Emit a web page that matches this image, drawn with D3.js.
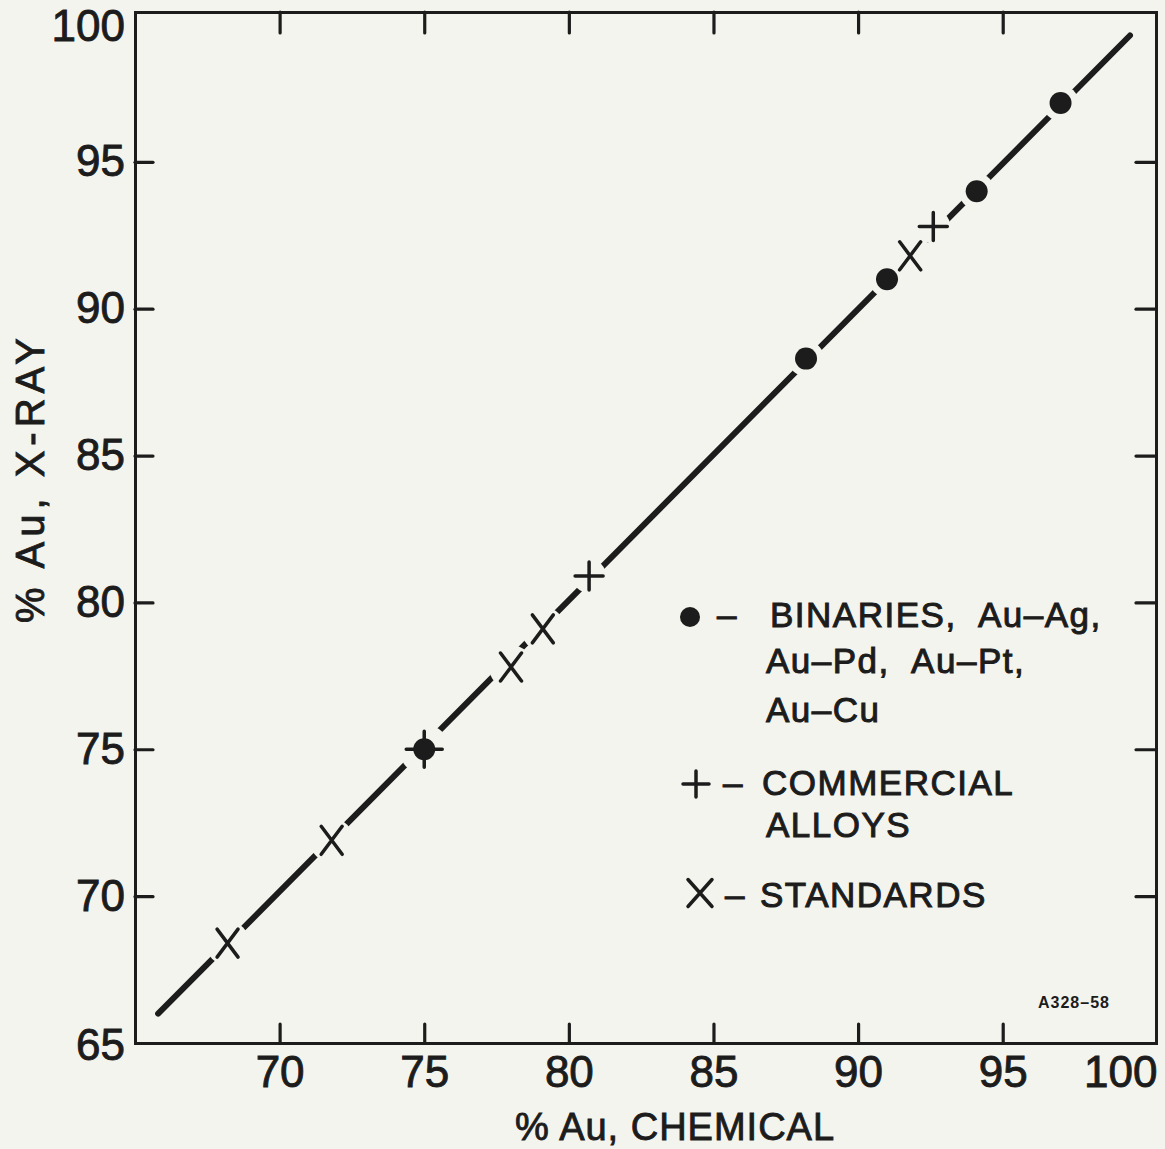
<!DOCTYPE html>
<html>
<head>
<meta charset="utf-8">
<script src="https://cdn.jsdelivr.net/npm/d3@7"></script>
<style>
  html, body { margin: 0; padding: 0; background: #f4f4ee; }
  svg { display: block; }
  text { font-family: "Liberation Sans", Arial, sans-serif; fill: #1c1c1c; }
</style>
</head>
<body>
<svg id="chart" width="1165" height="1149"></svg>
<script>
// ---- data ----
const xTicks = [70, 75, 80, 85, 90, 95, 100];
const yTicks = [65, 70, 75, 80, 85, 90, 95, 100];
const binaries = [[75.0, 75.0], [88.2, 88.3], [91.0, 91.0], [94.1, 94.0], [97.0, 97.0]];
const commercial = [[75.0, 75.0], [80.7, 80.9], [92.6, 92.8]];
const standards = [[68.2, 68.4], [71.8, 71.9], [78.0, 77.8], [79.1, 79.1], [91.8, 91.8]];
const fitLine = [[65.8, 66.0], [99.4, 99.3]];
const xTitle = "% Au, CHEMICAL";
const yTitle = "% Au, X-RAY";
const legendLines = [
  ["BINARIES, Au–Ag,", "Au–Pd, Au–Pt,", "Au–Cu"],
  ["COMMERCIAL", "ALLOYS"],
  ["STANDARDS"]
];
const figCode = "A328–58";

// ---- layout ----
const ink = "#1c1c1c", bg = "#f4f4ee";
const L = 135, R = 1156, T = 12, B = 1043;
const x = d3.scaleLinear().domain([65, 100.3]).range([L, R]);
const y = d3.scaleLinear().domain([65, 100.1]).range([B, T]);

const svg = d3.select("#chart");
svg.append("rect").attr("width", 1165).attr("height", 1149).attr("fill", bg);

function styleAxis(g) {
  g.selectAll("path.domain").attr("stroke", ink).attr("stroke-width", 3).attr("stroke-linecap", "square");
  g.selectAll(".tick line").attr("stroke", ink).attr("stroke-width", 3.2).attr("stroke-linecap", "round");
  g.selectAll(".tick text").attr("fill", ink).attr("stroke", ink).attr("stroke-width", 0.9)
    .style("font-family", '"Liberation Sans", Arial, sans-serif').style("font-size", "44px");
}

// bottom axis
const gB = svg.append("g").attr("transform", `translate(0,${B})`)
  .call(d3.axisBottom(x).tickValues(xTicks).tickSizeInner(-19).tickSizeOuter(0).tickPadding(0).tickFormat(d3.format("d")));
styleAxis(gB);
gB.selectAll(".tick text").attr("dy", "0").attr("y", 44);
gB.selectAll(".tick").filter(d => d === 100).select("line").remove();
gB.selectAll(".tick").filter(d => d === 100).select("text").attr("text-anchor", "end").attr("x", R - x(100) + 1);

// top axis
const gT = svg.append("g").attr("transform", `translate(0,${T})`)
  .call(d3.axisTop(x).tickValues(xTicks.filter(d => d < 100)).tickSizeInner(-21).tickSizeOuter(0).tickFormat(""));
styleAxis(gT);

// left axis
const gL = svg.append("g").attr("transform", `translate(${L},0)`)
  .call(d3.axisLeft(y).tickValues(yTicks).tickSizeInner(-18).tickSizeOuter(0).tickPadding(10).tickFormat(d3.format("d")));
styleAxis(gL);
gL.selectAll(".tick").filter(d => d === 65 || d === 100).select("line").remove();
gL.selectAll(".tick").filter(d => d === 100).select("text").attr("y", 11);
gL.selectAll(".tick").filter(d => d === 65).select("text").attr("y", 2);

// right axis
const gR = svg.append("g").attr("transform", `translate(${R},0)`)
  .call(d3.axisRight(y).tickValues(yTicks.filter(d => d > 65 && d < 100)).tickSizeInner(-20).tickSizeOuter(0).tickFormat(""));
styleAxis(gR);

// fit line
svg.append("path")
  .attr("d", d3.line().x(d => x(d[0])).y(d => y(d[1]))(fitLine))
  .attr("stroke", ink).attr("stroke-width", 6).attr("stroke-linecap", "round").attr("fill", "none");

// halos (gaps in the line around markers)
const halos = svg.append("g");
function halo(data, rf) {
  halos.selectAll(null).data(data).enter().append("circle")
    .attr("cx", d => x(d[0])).attr("cy", d => y(d[1])).attr("r", rf).attr("fill", bg);
}
halo(binaries, 18);
halo(commercial, (d, i) => i === 0 ? 25 : 17);
halo(standards, 22);

const plusPath = s => `M${-s},0H${s}M0,${-s}V${s}`;
const xPath = (w, h) => `M${-w},${-h}L${w},${h}M${w},${-h}L${-w},${h}`;

// markers
const marks = svg.append("g");
marks.selectAll("circle.bin").data(binaries).enter().append("circle")
  .attr("class", "bin").attr("cx", d => x(d[0])).attr("cy", d => y(d[1])).attr("r", 11).attr("fill", ink);
marks.selectAll("path.com").data(commercial).enter().append("path")
  .attr("class", "com").attr("transform", d => `translate(${x(d[0])},${y(d[1])})`)
  .attr("d", (d, i) => plusPath(i === 0 ? 18 : 14))
  .attr("stroke", ink).attr("stroke-width", 3.5).attr("stroke-linecap", "round").attr("fill", "none");
marks.selectAll("path.std").data(standards).enter().append("path")
  .attr("class", "std").attr("transform", d => `translate(${x(d[0])},${y(d[1])})`)
  .attr("d", xPath(10.5, 14))
  .attr("stroke", ink).attr("stroke-width", 3.5).attr("stroke-linecap", "round").attr("fill", "none");

// legend
const lg = svg.append("g").style("font-size", "35px");
lg.append("circle").attr("cx", 690).attr("cy", 617).attr("r", 10).attr("fill", ink);
lg.append("path").attr("transform", "translate(696,784)").attr("d", plusPath(13))
  .attr("stroke", ink).attr("stroke-width", 3.5).attr("stroke-linecap", "round").attr("fill", "none");
lg.append("path").attr("transform", "translate(700,893)").attr("d", xPath(12, 13.5))
  .attr("stroke", ink).attr("stroke-width", 3.5).attr("stroke-linecap", "round").attr("fill", "none");
const dashes = [[717, 627], [723, 795], [725, 907]];
dashes.forEach(p => lg.append("text").attr("x", p[0]).attr("y", p[1])
  .attr("stroke", ink).attr("stroke-width", 1).text("–"));
const lineSpec = [
  [[770, 627], [766, 673], [766, 722]],
  [[762, 795], [766, 837]],
  [[760, 907]]
];
legendLines.forEach((grp, gi) => grp.forEach((t, li) => {
  lg.append("text").attr("x", lineSpec[gi][li][0]).attr("y", lineSpec[gi][li][1])
    .attr("stroke", ink).attr("stroke-width", 1)
    .style("letter-spacing", "1.5px").style("word-spacing", "12px").text(t);
}));

// figure code
svg.append("text").attr("x", 1038).attr("y", 1008).style("font-size", "16px").style("font-weight", "bold")
  .style("letter-spacing", "1px").text(figCode);

// axis titles
svg.append("text").attr("x", 675).attr("y", 1140).attr("text-anchor", "middle")
  .attr("stroke", ink).attr("stroke-width", 0.9)
  .style("font-size", "38px").style("letter-spacing", "1px").text(xTitle);
svg.append("text").attr("transform", "translate(44,478) rotate(-90)").attr("text-anchor", "middle")
  .attr("stroke", ink).attr("stroke-width", 0.9)
  .style("font-size", "40px").style("letter-spacing", "5px").text(yTitle);
</script>
</body>
</html>
